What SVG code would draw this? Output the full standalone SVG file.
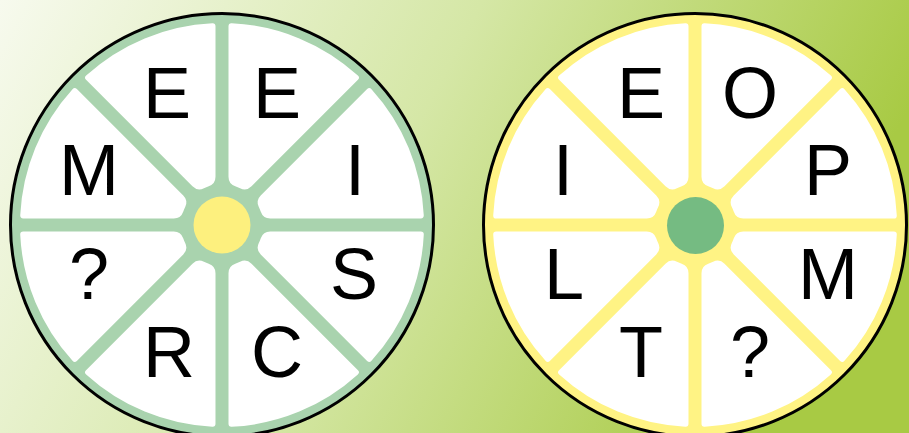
<svg xmlns="http://www.w3.org/2000/svg" xmlns:xlink="http://www.w3.org/1999/xlink" width="909" height="433" viewBox="0 0 909 433">
<defs>
<linearGradient id="bg" x1="0" y1="0" x2="1" y2="0.25">
<stop offset="0" stop-color="#f7faee"/>
<stop offset="0.5" stop-color="#d5e7a6"/>
<stop offset="1" stop-color="#a8ca44"/>
</linearGradient>
<path id="wedge" d="M40.918,-2.591 A41,41 0 0 1 40.918,2.591 A10,10 0 0 0 47.071,12.462 L186.129,70.061 A3,3 0 0 0 190.1,68.303 A202,202 0 0 0 190.1,-68.303 A3,3 0 0 0 186.129,-70.061 L47.071,-12.462 A10,10 0 0 0 40.918,-2.591 Z"/>
<style>
.rim{stroke:#000;stroke-width:3}
.w{fill:#fff}
.lt{font-family:"Liberation Sans",Arial,sans-serif;font-size:72px;fill:#000;text-anchor:middle}
</style>
</defs>
<rect width="909" height="433" fill="url(#bg)"/>
<g id="wheel-left">
<circle class="rim" cx="222" cy="225" r="211.5" fill="#a9d3ae"/>
<g transform="translate(222,225)">
<use class="w" xlink:href="#wedge" transform="rotate(22.5)"/>
<use class="w" xlink:href="#wedge" transform="rotate(67.5)"/>
<use class="w" xlink:href="#wedge" transform="rotate(112.5)"/>
<use class="w" xlink:href="#wedge" transform="rotate(157.5)"/>
<use class="w" xlink:href="#wedge" transform="rotate(202.5)"/>
<use class="w" xlink:href="#wedge" transform="rotate(247.5)"/>
<use class="w" xlink:href="#wedge" transform="rotate(292.5)"/>
<use class="w" xlink:href="#wedge" transform="rotate(337.5)"/>
</g>
<circle cx="222" cy="225" r="28.5" fill="#fdf07e"/>
<text class="lt" x="167" y="118">E</text>
<text class="lt" x="277" y="118">E</text>
<text class="lt" x="89" y="195">M</text>
<text class="lt" x="355" y="195">I</text>
<text class="lt" x="89" y="299">?</text>
<text class="lt" x="354" y="299">S</text>
<text class="lt" x="169" y="377">R</text>
<text class="lt" x="277" y="377">C</text>
</g>
<g id="wheel-right">
<circle class="rim" cx="695" cy="225" r="211.5" fill="#fff384"/>
<g transform="translate(695,225)">
<use class="w" xlink:href="#wedge" transform="rotate(22.5)"/>
<use class="w" xlink:href="#wedge" transform="rotate(67.5)"/>
<use class="w" xlink:href="#wedge" transform="rotate(112.5)"/>
<use class="w" xlink:href="#wedge" transform="rotate(157.5)"/>
<use class="w" xlink:href="#wedge" transform="rotate(202.5)"/>
<use class="w" xlink:href="#wedge" transform="rotate(247.5)"/>
<use class="w" xlink:href="#wedge" transform="rotate(292.5)"/>
<use class="w" xlink:href="#wedge" transform="rotate(337.5)"/>
</g>
<circle cx="695.5" cy="225.5" r="28.5" fill="#75bb82"/>
<text class="lt" x="641" y="118">E</text>
<text class="lt" x="750" y="118">O</text>
<text class="lt" x="563" y="195">I</text>
<text class="lt" x="828" y="195">P</text>
<text class="lt" x="564" y="299">L</text>
<text class="lt" x="828" y="299">M</text>
<text class="lt" x="641" y="377">T</text>
<text class="lt" x="750" y="377">?</text>
</g>
</svg>
